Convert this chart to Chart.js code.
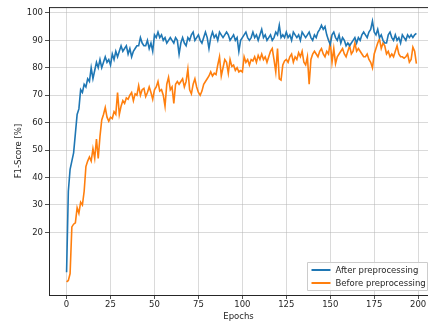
<!DOCTYPE html>
<html>
<head>
<meta charset="utf-8">
<script src="https://cdn.jsdelivr.net/npm/chart.js@4"></script>
<style>
html,body{margin:0;padding:0;background:#fff;}
#wrap{width:428px;height:325px;position:relative;}
</style>
</head>
<body>
<div id="wrap"><canvas id="c" width="428" height="325"></canvas></div>
<script>
const seriesNames = ["After preprocessing", "Before preprocessing"];
const xTickValues = [0, 25, 50, 75, 100, 125, 150, 175, 200];
const yTickValues = [20, 30, 40, 50, 60, 70, 80, 90, 100];

const afterValues = [
5.5,35,43,46,49,56,63,65,72,71,74,73,76,75,80,76,79,82,80,83,
80,82,84,82,83,81,85,83,86,84,86,88,86,87,88,85,87,84,86,87,
88,88,91,89,88,88,90,87,89,86,92,91,93,91,92,90,91,89,90,91,
90,89,91,90,85,89,91,89,88,91,90,92,93,90,91,92,90,89,91,93,
91,87,91,93,91,92,90,93,92,91,92,93,92,90,91,92,90,91,86,90,
91,92,93,91,90,91,93,91,92,90,92,94,91,92,90,91,92,90,91,93,
92,95.5,91,92,91,93,91,92,90,93,92,91,92,90,93,92,91,92,93,91,
90,92,91,93,94,95.5,94,95,92,90,88.5,92,93,91,90,92,89,91,90,88,
89,88,89,90,91,89,91,90,92,93,92,91,93,94,97,93,92,94,91,92,
90,89,89,92,93,91,90,92,90,91,89,92,91,90,92,91,92,91,92,92.5
];

const beforeValues = [
2,2.5,5,22,23,23.5,29,27,31,30,35,44,46,47.5,46,50.5,47,54,47,55,
61,63,65.5,62,60.5,62,61.5,64,63,71,63,66,68,67,69,68.5,70,71,68,70.5,
70,73.5,70,72,72.5,69.5,71,73,71,68.5,72,73,75,71.5,72,70,66,74,76.5,72,
73,67,74,75,74,75,76,73,75,79.5,72,70.5,74,76,73,71,70,71.5,74,75,
76,77,78.5,77,78,77.5,81,84,77,80,83,82,78,83,80.5,81,79,80,78.5,79,
78.5,84,82,83,81,83,82.5,84,82,84.5,83,85,83,84,82,84,86,87,83,78.5,
87,76,75.5,81,82.5,83,82,84,85,82,84,83,85.5,84,86,82,81,84,74,83,
85,86,85,84,86,87,85,84,86,85,89.5,82,87,81.5,84,85,86,87,85,84,
86,88,85,86,89,86,87,86,85,84,84,85,83,82,80,85,87,89,90.5,87,
89,88,85,86,84,85,84,86,88,85,84,84,83.5,84,85,82,83,87.5,86,81.5
];

const epochs = afterValues.map((_, i) => i);

Chart.defaults.font.family = "'DejaVu Sans', sans-serif";
Chart.defaults.font.size = 8.5;
Chart.defaults.color = '#262626';

const framePlugin = {
  id: 'frame',
  afterDraw(chart) {
    const {ctx, chartArea: a} = chart;
    ctx.save();
    ctx.strokeStyle = '#262626';
    ctx.lineWidth = 1;
    ctx.beginPath();
    ctx.moveTo(a.left, a.top + 0.5);
    ctx.lineTo(a.right, a.top + 0.5);
    ctx.stroke();
    // legend
    const bx = 307.5, by = 262.5, bw = 120, bh = 28;
    ctx.fillStyle = 'rgba(255,255,255,0.85)';
    ctx.strokeStyle = '#cccccc';
    ctx.lineWidth = 1;
    ctx.beginPath();
    ctx.rect(bx, by, bw, bh);
    ctx.fill();
    ctx.stroke();
    ctx.font = "8.5px 'DejaVu Sans', sans-serif";
    ctx.textBaseline = 'middle';
    ctx.textAlign = 'left';
    chart.data.datasets.forEach((ds, i) => {
      const y = by + 7.5 + i * 13;
      ctx.strokeStyle = ds.borderColor;
      ctx.lineWidth = 2;
      ctx.beginPath();
      ctx.moveTo(bx + 4, y);
      ctx.lineTo(bx + 23, y);
      ctx.stroke();
      ctx.fillStyle = '#262626';
      ctx.fillText(ds.label, bx + 28, y + 0.5);
    });
    ctx.restore();
  }
};

new Chart(document.getElementById('c'), {
  type: 'line',
  data: {
    datasets: [
      {
        label: seriesNames[0],
        data: epochs.map((e, i) => ({x: e, y: afterValues[i]})),
        borderColor: '#1f77b4',
        borderWidth: 1.6,
        pointRadius: 0,
        tension: 0,
        fill: false
      },
      {
        label: seriesNames[1],
        data: epochs.map((e, i) => ({x: e, y: beforeValues[i]})),
        borderColor: '#ff7f0e',
        borderWidth: 1.6,
        pointRadius: 0,
        tension: 0,
        fill: false
      }
    ]
  },
  options: {
    responsive: false,
    animation: false,
    layout: {padding: {top: 7, right: 0, left: 0, bottom: 0}},
    plugins: {legend: {display: false}, tooltip: {enabled: false}},
    scales: {
      x: {
        type: 'linear',
        min: -10,
        max: 205.6,
        afterBuildTicks(s) { s.ticks = xTickValues.map(v => ({value: v})); },
        afterFit(s) { s.height = 30; },
        ticks: {padding: 1, maxRotation: 0, autoSkip: false, color: '#262626'},
        grid: {color: 'rgba(176,176,176,0.6)', lineWidth: 0.8, tickColor: '#262626', tickLength: 4},
        border: {color: '#262626', width: 1},
        title: {display: true, text: 'Epochs', padding: {top: 0, bottom: 3}, color: '#262626'}
      },
      y: {
        type: 'linear',
        min: -2.8,
        max: 102.1,
        afterBuildTicks(s) { s.ticks = yTickValues.map(v => ({value: v})); },
        afterFit(s) { s.width = 49; },
        ticks: {padding: 2, autoSkip: false, color: '#262626'},
        grid: {color: 'rgba(176,176,176,0.6)', lineWidth: 0.8, tickColor: '#262626', tickLength: 4},
        border: {color: '#262626', width: 1},
        title: {display: true, text: 'F1-Score [%]', padding: {top: 14, bottom: 0}, color: '#262626'}
      }
    }
  },
  plugins: [framePlugin]
});
</script>
</body>
</html>
